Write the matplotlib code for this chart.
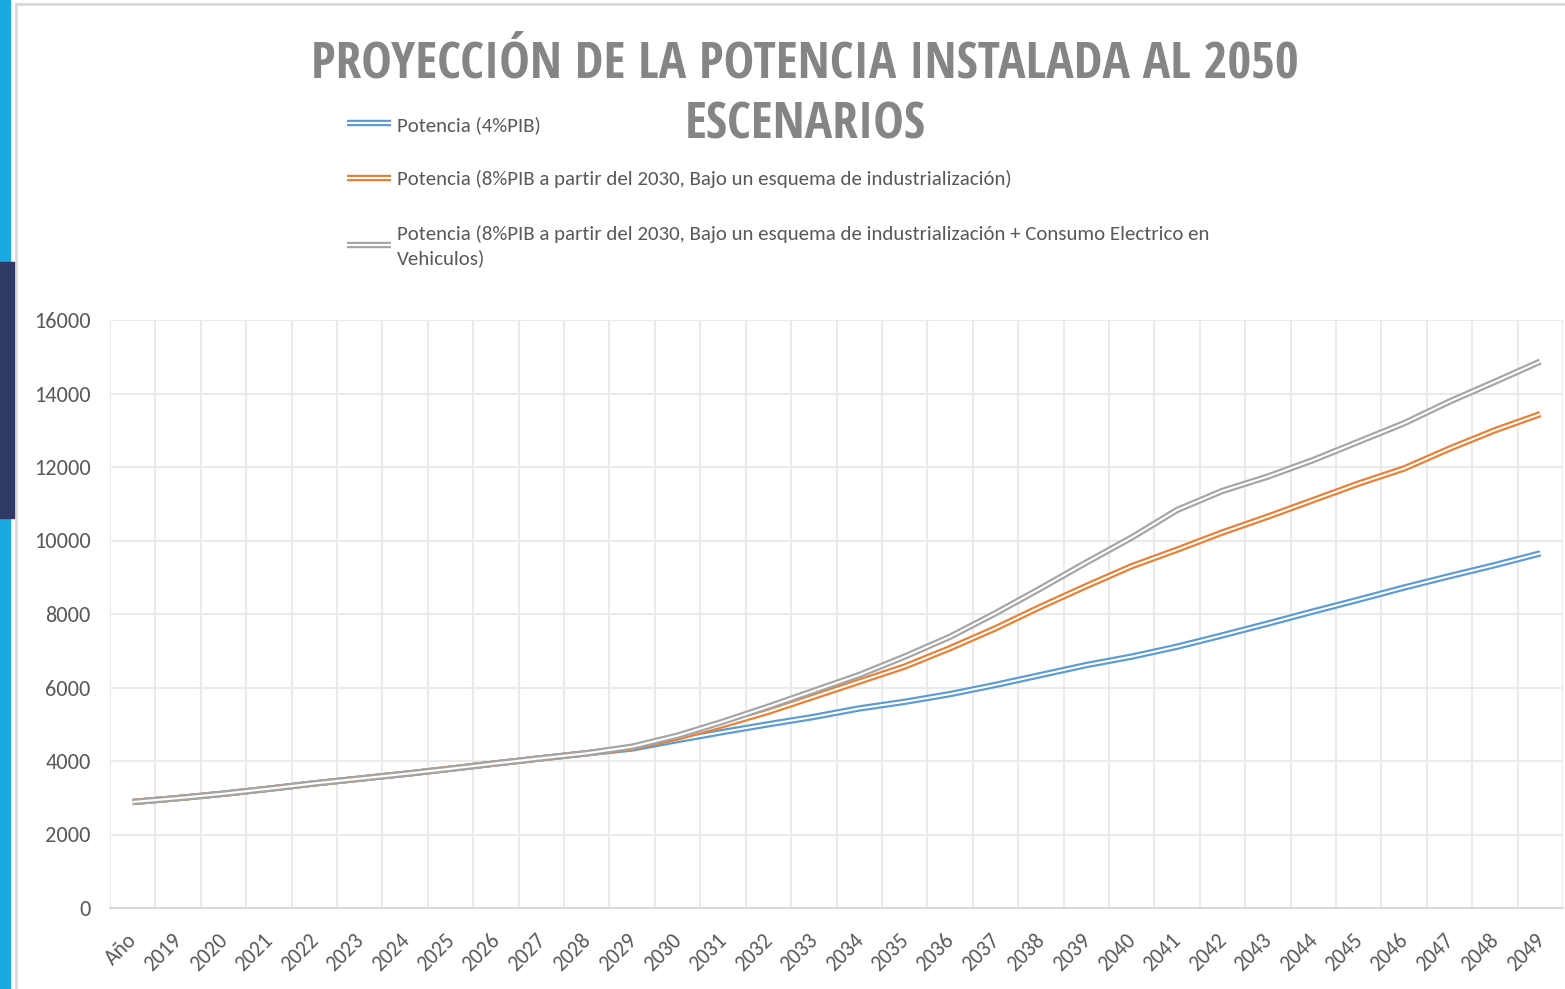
import matplotlib
matplotlib.use("Agg")
import matplotlib.pyplot as plt
import matplotlib.transforms as mtransforms
from matplotlib.lines import Line2D
from matplotlib.patches import Rectangle

plt.rcParams['font.family'] = ['Carlito', 'DejaVu Sans']

# categories (x axis)
years = ["Año", "2019", "2020", "2021", "2022", "2023", "2024", "2025", "2026", "2027",
         "2028", "2029", "2030", "2031", "2032", "2033", "2034", "2035", "2036", "2037",
         "2038", "2039", "2040", "2041", "2042", "2043", "2044", "2045", "2046", "2047",
         "2048", "2049"]

# potencia instalada por escenario
pot_4pib = [2885, 2990, 3110, 3245, 3390, 3520, 3650, 3790, 3935, 4075,
            4210, 4340, 4570, 4790, 5000, 5200, 5430, 5610, 5820, 6070,
            6340, 6610, 6840, 7110, 7420, 7740, 8070, 8390, 8720, 9030,
            9330, 9650]
pot_8pib = [2885, 2990, 3110, 3245, 3390, 3520, 3650, 3790, 3935, 4075,
            4210, 4370, 4640, 4980, 5340, 5750, 6160, 6570, 7070, 7610,
            8200, 8760, 9300, 9750, 10220, 10650, 11100, 11550, 11960, 12500,
            13000, 13440]
pot_8pib_ve = [2885, 2990, 3110, 3245, 3390, 3520, 3650, 3790, 3935, 4075,
               4210, 4390, 4690, 5070, 5480, 5910, 6340, 6840, 7380, 8020,
               8700, 9400, 10080, 10830, 11350, 11740, 12190, 12690, 13190, 13780,
               14320, 14870]

labels = ["Potencia (4%PIB)",
          "Potencia (8%PIB a partir del 2030, Bajo un esquema de industrialización)",
          "Potencia (8%PIB a partir del 2030, Bajo un esquema de industrialización + Consumo Electrico en\nVehiculos)"]
colors = ["#5B9BD5", "#ED7D31", "#A5A5A5"]

fig = plt.figure(figsize=(15.65, 9.89), dpi=100)
ax = fig.add_axes([110 / 1565, 1 - 908 / 989, 1453 / 1565, 588 / 989])

# decoracion de la diapositiva
fig.patches.append(Rectangle((0, 0), 10 / 1565, 1, transform=fig.transFigure,
                             color="#1BA9E1", zorder=0))
fig.patches.append(Rectangle((0, 1 - 518 / 989), 15 / 1565, 256 / 989, transform=fig.transFigure,
                             color="#2F3B64", zorder=1))
fig.lines.append(Line2D([15.5 / 1565, 15.5 / 1565], [0, 1 - 4 / 989], transform=fig.transFigure,
                        color="#D9D9D9", lw=2))
fig.lines.append(Line2D([15.5 / 1565, 1], [1 - 4 / 989, 1 - 4 / 989], transform=fig.transFigure,
                        color="#D9D9D9", lw=2))

x = list(range(len(years)))
handles = []
for serie, col in zip([pot_4pib, pot_8pib, pot_8pib_ve], colors):
    # linea doble estilo Excel
    ax.plot(x, serie, color=col, lw=4.6, solid_capstyle="butt", solid_joinstyle="round", zorder=3)
    ax.plot(x, serie, color="white", lw=1.5, solid_capstyle="butt", solid_joinstyle="round", zorder=3)
    handles.append((Line2D([], [], color=col, lw=4.6, solid_capstyle="butt"),
                    Line2D([], [], color="white", lw=1.5, solid_capstyle="butt")))

ax.set_xlim(-0.5, len(years) - 0.5)
ax.set_ylim(0, 16000)
ax.set_yticks(range(0, 16001, 2000))
ax.set_xticks(x)
ax.set_xticklabels(years, rotation=45, ha="right")
ax.set_xticks([i - 0.5 for i in range(len(years) + 1)], minor=True)
ax.tick_params(axis="both", which="both", length=0, colors="#595959")
ax.tick_params(axis="y", pad=14, labelsize=16)
ax.tick_params(axis="x", pad=16, labelsize=15.5)
shift = mtransforms.ScaledTranslation(8 / 100, 0, fig.dpi_scale_trans)
for lab in ax.get_xticklabels():
    lab.set_transform(lab.get_transform() + shift)
ax.grid(axis="y", color="#EBEBEB", lw=1.5)
ax.grid(axis="x", which="minor", color="#EBEBEB", lw=1.5)
ax.grid(axis="x", which="major", visible=False)
ax.set_axisbelow(True)
for s in ["left", "right", "top"]:
    ax.spines[s].set_visible(False)
ax.spines["bottom"].set_color("#D9D9D9")
ax.spines["bottom"].set_linewidth(1.5)

title_font = dict(ha="center", va="center", fontsize=37, fontweight="bold", color="#858585",
                  family=["Open Sans Condensed", "DejaVu Sans"])
fig.text(805 / 1565, 1 - 64 / 989, "PROYECCIÓN DE LA POTENCIA INSTALADA AL 2050", **title_font)
fig.text(805 / 1565, 1 - 125 / 989, "ESCENARIOS", **title_font)

leg = fig.legend(handles, labels, loc="upper left", bbox_to_anchor=(328 / 1565, 1 - 97 / 989),
                 frameon=False, fontsize=15, labelcolor="#595959", handlelength=2.1,
                 handletextpad=0.3, labelspacing=1.75)
leg.get_texts()[2].set_linespacing(1.4)

fig.savefig("out.png", dpi=100, facecolor="white")
